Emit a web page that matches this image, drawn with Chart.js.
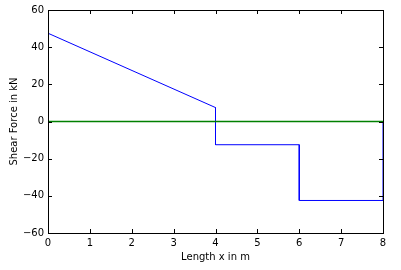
<!DOCTYPE html>
<html>
<head>
<meta charset="utf-8">
<script src="https://cdn.jsdelivr.net/npm/chart.js@4"></script>
<style>
  html, body { margin: 0; padding: 0; background: #fff; }
  #wrap { width: 401px; height: 270px; }
</style>
</head>
<body>
<div id="wrap"><canvas id="c"></canvas></div>
<script>
// shear force diagram data
const xs = [0, 4, 4, 6, 6, 8, 8];
const shear = [47.5, 7.5, -12.5, -12.5, -42.5, -42.5, 0];
const zeroX = [0, 8];
const zeroY = [0, 0];
const xTicks = [0, 1, 2, 3, 4, 5, 6, 7, 8];
const yTicks = [-60, -40, -20, 0, 20, 40, 60];

const font = { family: "DejaVu Sans", size: 10 };

// matplotlib style box with inward ticks on all four sides
const boxTicks = {
  id: "boxTicks",
  afterDraw(chart) {
    const ctx = chart.ctx;
    const a = chart.chartArea;
    const sx = chart.scales.x, sy = chart.scales.y;
    ctx.save();
    ctx.strokeStyle = "#000";
    ctx.lineWidth = 1;
    ctx.beginPath();
    xTicks.forEach(v => {
      const px = Math.round(sx.getPixelForValue(v)) + 0.5;
      ctx.moveTo(px, a.bottom); ctx.lineTo(px, a.bottom - 4);
      ctx.moveTo(px, a.top); ctx.lineTo(px, a.top + 4);
    });
    yTicks.forEach(v => {
      const py = Math.round(sy.getPixelForValue(v)) + 0.5;
      ctx.moveTo(a.left, py); ctx.lineTo(a.left + 4, py);
      ctx.moveTo(a.right, py); ctx.lineTo(a.right - 4, py);
    });
    ctx.stroke();
    ctx.strokeRect(Math.round(a.left) + 0.5, Math.round(a.top) + 0.5,
      Math.round(a.right - a.left), Math.round(a.bottom - a.top));
    ctx.restore();
  }
};

new Chart(document.getElementById("c"), {
  type: "line",
  data: {
    datasets: [
      {
        data: xs.map((x, i) => ({ x, y: shear[i] })),
        borderColor: "#0000ff", borderWidth: 1, pointRadius: 0, tension: 0, order: 1
      },
      {
        data: zeroX.map((x, i) => ({ x, y: zeroY[i] })),
        borderColor: "#008000", borderWidth: 1.3, pointRadius: 0, tension: 0, order: 0
      }
    ]
  },
  options: {
    responsive: true,
    maintainAspectRatio: false,
    animation: false,
    layout: { padding: { left: 0, right: 18, top: 10, bottom: 0 } },
    plugins: { legend: { display: false }, tooltip: { enabled: false } },
    scales: {
      x: {
        type: "linear", min: 0, max: 8,
        afterFit: s => { s.height = 37; },
        afterBuildTicks: s => { s.ticks = xTicks.map(v => ({ value: v })); },
        grid: { display: false, drawTicks: false },
        border: { display: false },
        ticks: { color: "#000", font, padding: 4, maxRotation: 0 },
        title: { display: true, text: "Length x in m", color: "#000", font, padding: { top: 0, bottom: 7 } }
      },
      y: {
        min: -60, max: 60,
        afterFit: s => { s.width = 48; },
        afterBuildTicks: s => { s.ticks = yTicks.map(v => ({ value: v })); },
        grid: { display: false, drawTicks: false },
        border: { display: false },
        ticks: { color: "#000", font, padding: 4,
          callback: v => v < 0 ? "\u2212" + Math.abs(v) : String(v) },
        title: { display: true, text: "Shear Force in kN", color: "#000", font, padding: { top: 8, bottom: 0 } }
      }
    }
  },
  plugins: [boxTicks]
});
</script>
</body>
</html>
